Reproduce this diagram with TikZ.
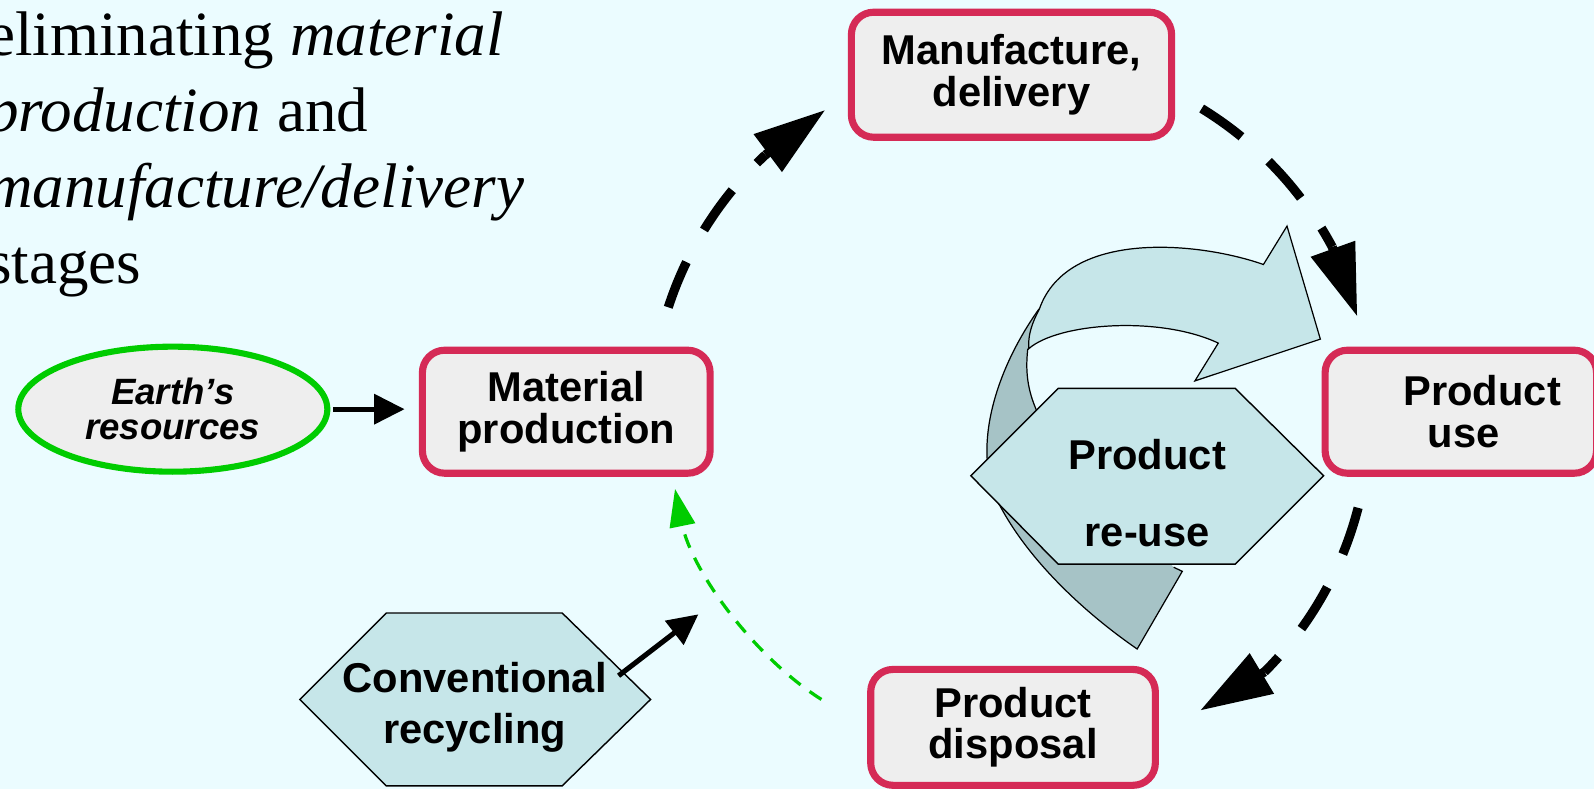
\documentclass[tikz,border=0pt]{standalone}
\usepackage{fontspec}
\setmainfont{Liberation Serif}
\newfontfamily\arialf{Liberation Sans}
\usetikzlibrary{arrows.meta,calc,shapes.geometric}
\definecolor{bgc}{RGB}{235,252,255}
\definecolor{boxgray}{RGB}{238,238,238}
\definecolor{boxred}{RGB}{213,42,86}
\definecolor{greenc}{RGB}{0,204,0}
\definecolor{hexfill}{RGB}{198,230,233}
\definecolor{darkside}{RGB}{166,195,198}
\begin{document}
\begin{tikzpicture}[x=0.5pt,y=-0.5pt,
  stagebox/.style={draw=boxred, line width=3.5pt, fill=boxgray, rounded corners=11pt,
    inner sep=0pt, align=center, font=\arialf\bfseries\fontsize{20.5pt}{20.5pt}\selectfont},
  hexshape/.style={draw=black, line width=0.7pt, fill=hexfill},
  hextext/.style={inner sep=0pt, align=center},
  ribbon/.style={draw=black, line width=0.6pt},
  bigdash/.style={line width=4.5pt, dash pattern=on 24pt off 18pt},
  bighead/.style={line width=4.5pt, -{Triangle[length=35.5pt,width=22pt]}},
  blackarrow/.style={line width=2.5pt, -{Triangle[length=15pt,width=14.5pt]}},
  greenarrow/.style={draw=greenc, line width=1.6pt, dash pattern=on 7pt off 5.5pt, -{Triangle[length=18.5pt,width=12.5pt]}}
]
\fill[bgc] (0,0) rectangle (1568,776);
\useasboundingbox (0,0) rectangle (1568,776);

% intro text
\node[anchor=base west, inner sep=0pt, align=left, font=\fontsize{31pt}{37.25pt}\selectfont] (intro) at (-13,278.5)
  {eliminating \textit{material}\\\textit{production} and\\\textit{manufacture/delivery}\\stages};

% curved re-use ribbon: dark side
\fill[darkside] (1022,304) .. controls (975,370) and (955,450) .. (985,500)
  .. controls (1015,555) and (1070,605) .. (1118.6,638.4) -- (1163,562) -- (1154.5,558)
  -- (1100,500) -- (1025,415) .. controls (1012,390) and (1008,370) .. (1011,343)
  .. controls (1011,330) and (1015,318) .. (1022,304) -- cycle;
\draw[ribbon] (1022,304) .. controls (975,370) and (955,450) .. (985,500)
  .. controls (1015,555) and (1070,605) .. (1118.6,638.4) -- (1163,562) -- (1154.5,558);
\draw[ribbon] (1011,343) .. controls (1008,370) and (1012,390) .. (1025,415);
% front face
\draw[ribbon, fill=hexfill] (1012,343) .. controls (1040,318) and (1140,310) .. (1198.4,337.5)
  -- (1175.4,374.7) -- (1298.8,333.6) -- (1266,222.4) -- (1242.8,260.2)
  .. controls (1180,238) and (1050,225) .. (1022.4,304)
  .. controls (1015,318) and (1011,330) .. (1012,343) -- cycle;

% re-use hexagon
\draw[hexshape] (955,468) -- (1041,382) -- (1215,382) -- (1302,468) -- (1215,555) -- (1041,555) -- cycle;
\node[hextext, font=\arialf\bfseries\fontsize{20.5pt}{37.5pt}\selectfont] (reuse) at (1128.5,485) {Product\\re-use};

% conventional recycling hexagon
\draw[hexshape] (295,688) -- (380,603) -- (553,603) -- (640,688) -- (553,773) -- (380,773) -- cycle;
\node[hextext, font=\arialf\bfseries\fontsize{20.5pt}{25pt}\selectfont] (recyc) at (467,696) {Conventional\\recycling};

% stage boxes
\node[stagebox, minimum width=157.5pt, minimum height=61.5pt] (manu) at (995,73.5) {Manufacture,\\delivery};
\node[stagebox, minimum width=141.5pt, minimum height=60.5pt] (mat) at (557,405) {Material\\production};
\node[stagebox, minimum width=133.5pt, minimum height=60.5pt] (use) at (1437,405) {\hspace*{21pt}Product\\\hspace*{3pt}use};
\node[stagebox, minimum width=140pt, minimum height=57pt] (disp) at (996.5,715.5) {Product\\disposal};

% Earth's resources
\node[ellipse, draw=greenc, line width=3pt, fill=boxgray, minimum width=152pt, minimum height=61.5pt,
  inner sep=0pt, align=center, font=\arialf\bfseries\itshape\fontsize{18pt}{17pt}\selectfont] (earth) at (170,402.5)
  {Earth’s\\resources};

% connectors
\draw[blackarrow, shorten <=1.5pt, shorten >=7pt] (earth.east) -- (earth.east -| mat.west);
\coordinate (recout) at (608.5,664.7);
\coordinate (matin) at (687,604.3);
\draw[blackarrow] (recout) -- (matin);

\coordinate (dispout) at (808,688);
\coordinate (matback) at (664,481);
\draw[greenarrow] (dispout) .. controls (740,645) and (680,560) .. (matback);

% life-cycle loop (dashed arcs with straight heads)
\coordinate (ctr) at (995,412);
\coordinate (m1) at ($(ctr)+(198:355)$);
\coordinate (b1) at ($(ctr)+(227:355)$);
\coordinate (t1) at (812,108);
\draw[bigdash] (m1) arc[start angle=198, end angle=227, radius=355];
\draw[bighead] (b1) -- (t1);

\coordinate (m2) at ($(ctr)+(301.5:358)$);
\coordinate (b2) at ($(ctr)+(331.8:358)$);
\coordinate (t2) at (1335.2,311.5);
\draw[bigdash] (m2) arc[start angle=301.5, end angle=331.8, radius=358];
\draw[bighead] (b2) -- (t2);

\coordinate (m3) at ($(ctr)+(14.4:352)$);
\coordinate (b3) at ($(ctr)+(45:352)$);
\coordinate (t3) at (1180.4,699);
\draw[bigdash] (m3) arc[start angle=14.4, end angle=45, radius=352];
\draw[bighead] (b3) -- (t3);
\end{tikzpicture}
\end{document}
